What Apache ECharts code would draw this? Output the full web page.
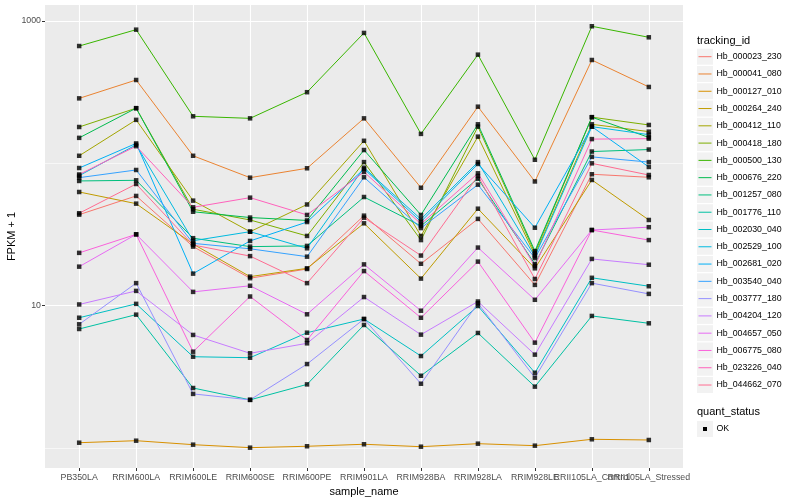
<!DOCTYPE html>
<html><head><meta charset="utf-8">
<script src="https://cdn.jsdelivr.net/npm/echarts@6/dist/echarts.min.js"></script>
<style>html,body{margin:0;padding:0;background:#fff}#c{width:800px;height:500px}</style>
</head><body><div id="c"></div>
<script>
const categories = ["PB350LA","RRIM600LA","RRIM600LE","RRIM600SE","RRIM600PE","RRIM901LA","RRIM928BA","RRIM928LA","RRIM928LE","RRII105LA_Control","RRII105LA_Stressed"];
const trackingIds = ["Hb_000023_230","Hb_000041_080","Hb_000127_010","Hb_000264_240","Hb_000412_110","Hb_000418_180","Hb_000500_130","Hb_000676_220","Hb_001257_080","Hb_001776_110","Hb_002030_040","Hb_002529_100","Hb_002681_020","Hb_003540_040","Hb_003777_180","Hb_004204_120","Hb_004657_050","Hb_006775_080","Hb_023226_040","Hb_044662_070"];
const palette = ["#F8766D","#EA8331","#D89000","#C09B00","#A3A500","#7CAE00","#39B600","#00BB4E","#00BF7D","#00C1A3","#00BFC4","#00BAE0","#00B0F6","#35A2FF","#9590FF","#C77CFF","#E76BF3","#FA62DB","#FF62BC","#FF6C91"];

const Hb_000023_230 = [43.6, 59.0, 26.0, 15.6, 18.1, 42.9, 19.7, 40.7, 14.0, 83.8, 79.8];
const Hb_000041_080 = [286, 385, 113, 79.3, 92.3, 207, 67.4, 250, 74.6, 532, 344];
const Hb_000127_010 = [1.090, 1.126, 1.056, 1.006, 1.029, 1.063, 1.022, 1.073, 1.039, 1.152, 1.139];
const Hb_000264_240 = [62.9, 52.1, 27.1, 16.0, 18.3, 37.9, 15.5, 48.0, 18.3, 76.4, 40.0];
const Hb_000412_110 = [113, 202, 54.7, 33.1, 51.4, 144, 30.9, 154, 22.7, 188, 167];
const Hb_000418_180 = [180, 244, 47.6, 40.0, 30.9, 102, 28.9, 181, 23.5, 211, 186];
const Hb_000500_130 = [667, 869, 214, 207, 316, 824, 161, 580, 106, 918, 768];
const Hb_000676_220 = [151, 244, 45.7, 41.6, 39.7, 124, 43.4, 188, 24.2, 211, 152];
const Hb_001257_080 = [75.2, 76.0, 29.8, 26.0, 26.3, 58.0, 36.3, 78.0, 19.6, 121, 125];
const Hb_001776_110 = [6.86, 8.65, 2.64, 2.18, 2.80, 7.32, 3.22, 6.43, 2.70, 8.47, 7.52];
const Hb_002030_040 = [8.23, 10.3, 4.38, 4.31, 6.46, 8.06, 4.43, 9.95, 3.38, 15.7, 13.7];
const Hb_002529_100 = [81.9, 135, 28.6, 33.1, 25.3, 93.2, 40.5, 102, 22.2, 181, 159];
const Hb_002681_020 = [92.7, 138, 16.8, 28.5, 38.7, 91.3, 38.9, 99.0, 35.3, 181, 94.3];
const Hb_003540_040 = [79.3, 89.8, 27.4, 25.1, 22.1, 79.8, 35.1, 70.8, 21.6, 111, 102];
const Hb_003777_180 = [7.40, 14.4, 2.40, 2.18, 3.89, 8.06, 2.83, 10.4, 3.12, 14.4, 12.1];
const Hb_004204_120 = [10.2, 12.7, 6.23, 4.63, 5.44, 11.5, 6.26, 10.7, 4.53, 21.3, 19.4];
const Hb_004657_050 = [18.8, 31.7, 12.5, 13.8, 8.70, 19.5, 9.22, 25.6, 11.0, 34.0, 35.6];
const Hb_006775_080 = [23.5, 31.7, 4.75, 11.6, 5.74, 17.5, 8.23, 20.4, 5.50, 34.0, 28.9];
const Hb_023226_040 = [83.5, 132, 49.1, 57.4, 43.4, 87.0, 37.5, 85.1, 19.0, 148, 149];
const Hb_044662_070 = [44.6, 71.6, 26.7, 22.3, 14.4, 41.5, 22.5, 81.5, 15.4, 100, 82.8];

const seriesValues = [Hb_000023_230, Hb_000041_080, Hb_000127_010, Hb_000264_240, Hb_000412_110,
  Hb_000418_180, Hb_000500_130, Hb_000676_220, Hb_001257_080, Hb_001776_110, Hb_002030_040,
  Hb_002529_100, Hb_002681_020, Hb_003540_040, Hb_003777_180, Hb_004204_120, Hb_004657_050,
  Hb_006775_080, Hb_023226_040, Hb_044662_070];

const yMajorTicks = [10, 1000];
const yMinorTicks = [1, 100];
const quantStatus = ["OK"];

const FONT = '"Liberation Sans", Arial, Helvetica, sans-serif';
const chart = echarts.init(document.getElementById('c'), null, {renderer: 'canvas'});
const catIdx = categories.map((_, i) => i);
const n = catIdx.length;

const lineSeries = seriesValues.map((vals, s) => ({
  type: 'line', name: trackingIds[s], xAxisIndex: 0, yAxisIndex: 0,
  data: vals.map((v, i) => [i, v]), showSymbol: false, symbol: 'none',
  lineStyle: {color: palette[s], width: 1}, itemStyle: {color: palette[s]},
  z: 2, silent: true, animation: false
}));
const pointData = [];
seriesValues.forEach(vals => vals.forEach((v, i) => pointData.push([i, v])));
const pointSeries = {
  type: 'scatter', name: 'OK', data: pointData, symbol: 'rect', symbolSize: 4.5,
  itemStyle: {color: '#000'}, z: 5, silent: true, animation: false
};

const graphics = [];
const keyX = 697, firstY = 56.7, step = 17.28;
graphics.push({type: 'text', x: keyX, y: 40.5, style: {text: 'tracking_id', fontSize: 11, fontFamily: FONT, fill: '#000', verticalAlign: 'middle'}});
trackingIds.forEach((id, i) => {
  const cy = firstY + i * step;
  graphics.push({type: 'rect', shape: {x: keyX, y: cy - 8, width: 16, height: 16}, style: {fill: '#F2F2F2'}});
  graphics.push({type: 'line', shape: {x1: keyX + 1.5, y1: cy, x2: keyX + 14.5, y2: cy}, style: {stroke: palette[i], lineWidth: 1}});
  graphics.push({type: 'text', x: 716.5, y: cy, style: {text: id, fontSize: 8.8, fontFamily: FONT, fill: '#000', verticalAlign: 'middle'}});
});
graphics.push({type: 'text', x: keyX, y: 412.3, style: {text: 'quant_status', fontSize: 11, fontFamily: FONT, fill: '#000', verticalAlign: 'middle'}});
quantStatus.forEach((q, i) => {
  const cy = 429 + i * step;
  graphics.push({type: 'rect', shape: {x: keyX, y: cy - 8, width: 16, height: 16}, style: {fill: '#F2F2F2'}});
  graphics.push({type: 'rect', shape: {x: keyX + 6, y: cy - 2, width: 4, height: 4}, style: {fill: '#000'}});
  graphics.push({type: 'text', x: 716.5, y: cy, style: {text: q, fontSize: 8.8, fontFamily: FONT, fill: '#000', verticalAlign: 'middle'}});
});

const labelStyle = {color: '#4D4D4D', fontSize: 8.8, fontFamily: FONT, margin: 5, hideOverlap: false,
                    showMinLabel: true, showMaxLabel: true, formatter: v => categories[Math.round(v)]};
function labelAxis(values) {
  return {
    type: 'value', min: -0.6, max: 10.6, position: 'bottom', gridIndex: 0,
    axisLine: {show: false, onZero: false},
    axisTick: {show: false, customValues: values},
    axisLabel: Object.assign({customValues: values}, labelStyle),
    splitLine: {show: false}
  };
}
const mainX = labelAxis(catIdx.slice(0, n - 2));
mainX.axisTick = {show: true, customValues: catIdx, length: 3, lineStyle: {color: '#333333', width: 1}};
mainX.axisLabel.customValues = catIdx.slice(0, n - 2);
mainX.splitLine = {show: true, lineStyle: {color: '#FFFFFF', width: 1.1}};
mainX.name = 'sample_name';
mainX.nameLocation = 'middle';
mainX.nameGap = 12;
mainX.nameTextStyle = {color: '#000', fontSize: 11, fontFamily: FONT};

const yBase = {type: 'log', logBase: 10, min: 0.724, max: 1295, gridIndex: 0};

chart.setOption({
  animation: false,
  backgroundColor: '#fff',
  grid: {left: 45, top: 5, width: 638, height: 463, show: true, backgroundColor: '#EBEBEB', borderWidth: 0,
         containLabel: false, outerBoundsMode: 'none'},
  xAxis: [mainX, labelAxis([n - 2]), labelAxis([n - 1])],
  yAxis: [
    Object.assign({}, yBase, {
      position: 'left',
      axisLine: {show: false, onZero: false},
      axisTick: {show: true, customValues: yMajorTicks, length: 3, lineStyle: {color: '#333333', width: 1}},
      axisLabel: {customValues: yMajorTicks, formatter: v => String(Math.round(v)), color: '#4D4D4D', fontSize: 8.8, fontFamily: FONT, margin: 4},
      splitLine: {show: true, lineStyle: {color: '#FFFFFF', width: 1.1}},
      name: 'FPKM + 1', nameLocation: 'middle', nameGap: 28, nameRotate: 90, nameMoveOverlap: false,
      nameTextStyle: {color: '#000', fontSize: 11, fontFamily: FONT}
    }),
    Object.assign({}, yBase, {
      position: 'left',
      axisLine: {show: false, onZero: false},
      axisTick: {show: false, customValues: yMinorTicks},
      axisLabel: {show: false, customValues: yMinorTicks},
      splitLine: {show: true, lineStyle: {color: '#FFFFFF', width: 0.6}}
    })
  ],
  series: lineSeries.concat([pointSeries]),
  graphic: graphics
});
</script></body></html>
